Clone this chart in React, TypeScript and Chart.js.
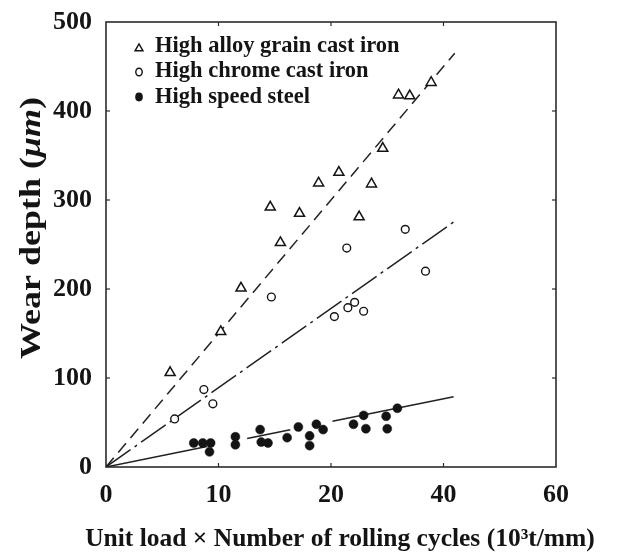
import React, { useEffect, useRef } from 'react';
import { Chart, registerables } from 'chart.js';

Chart.register(...registerables);

// Tick labels as printed on the reference axis (equally spaced positions)
const xTickLabels = ['0', '10', '20', '40', '60'];
const yTickValues = [0, 100, 200, 300, 400, 500];

// High alloy grain cast iron (triangles)
const alloyX = [5.7, 10.2, 12.0, 14.6, 15.5, 17.2, 18.9, 20.7, 22.5, 23.6, 24.6, 26.0, 27.0, 28.9];
const alloyY = [106, 152, 201, 292, 252, 285, 319, 331, 281, 318, 358, 418, 417, 432];

// High chrome cast iron (open circles)
const chromeX = [6.1, 8.7, 9.5, 14.7, 20.3, 21.4, 21.5, 22.1, 22.9, 26.6, 28.4];
const chromeY = [54, 87, 71, 191, 169, 246, 179, 185, 175, 267, 220];

// High speed steel (filled circles)
const steelX = [7.8, 8.6, 9.3, 9.2, 11.5, 11.5, 13.7, 13.8, 14.4, 16.1, 17.1, 18.1, 18.1, 18.7, 19.3, 22.0, 22.9, 23.1, 24.9, 25.0, 25.9];
const steelY = [27, 27, 27, 17, 34, 25, 42, 28, 27, 33, 45, 35, 24, 48, 42, 48, 58, 43, 57, 43, 66];

// Fitted lines (start, end)
const alloyLineX = [0, 31.0];
const alloyLineY = [0, 465];
const chromeLineX = [0, 31.1];
const chromeLineY = [0, 277];
const steelLineX = [0, 30.9];
const steelLineY = [0, 79];

const legendLabels = ['High alloy grain cast iron', 'High chrome cast iron', 'High speed steel'];
const xTitle = 'Unit load \u00d7 Number of rolling cycles (10\u00b3t/mm)';
const yTitleParts = ['Wear depth (', '\u03bcm', ')'];

const FONT = "'Liberation Serif', 'Times New Roman', serif";
const INK = '#141414';

const pts = (xs: number[], ys: number[]) => xs.map((x, i) => ({ x, y: ys[i] }));

export default function App() {
  const ref = useRef<HTMLCanvasElement>(null);

  useEffect(() => {
    const canvas = ref.current;
    if (!canvas) return;

    const decorPlugin = {
      id: 'decor',
      beforeDatasetsDraw(chart: any) {
        const { ctx, chartArea: a, scales } = chart;
        ctx.save();
        ctx.strokeStyle = '#2b2b2b';
        ctx.lineWidth = 1.6;
        ctx.strokeRect(a.left, a.top, a.right - a.left, a.bottom - a.top);
        ctx.lineWidth = 1.2;
        const seg = (x1: number, y1: number, x2: number, y2: number) => {
          ctx.beginPath();
          ctx.moveTo(x1, y1);
          ctx.lineTo(x2, y2);
          ctx.stroke();
        };
        [10, 20, 30].forEach((v) => {
          const px = scales.x.getPixelForValue(v);
          seg(px, a.bottom, px, a.bottom - 4);
          seg(px, a.top, px, a.top + 4);
        });
        [100, 200, 300, 400].forEach((v) => {
          const py = scales.y.getPixelForValue(v);
          seg(a.left, py, a.left + 4, py);
          seg(a.right, py, a.right - 4, py);
        });
        ctx.restore();
      },
      afterDraw(chart: any) {
        const { ctx } = chart;
        ctx.save();
        // Legend (inside plot area, top-left)
        ctx.fillStyle = INK;
        ctx.strokeStyle = INK;
        ctx.font = `bold 22.5px ${FONT}`;
        ctx.textBaseline = 'alphabetic';
        ctx.textAlign = 'left';
        const mx = 139;
        const rows = [51.5, 77, 103];
        ctx.lineWidth = 1.4;
        const r = 4.6;
        const cy0 = 48.5;
        ctx.beginPath();
        ctx.moveTo(mx, cy0 - r);
        ctx.lineTo(mx + r * 0.866, cy0 + r * 0.5);
        ctx.lineTo(mx - r * 0.866, cy0 + r * 0.5);
        ctx.closePath();
        ctx.fillStyle = '#fff';
        ctx.fill();
        ctx.stroke();
        ctx.beginPath();
        ctx.ellipse(mx, 72, 3.2, 3.8, 0, 0, Math.PI * 2);
        ctx.fill();
        ctx.stroke();
        ctx.fillStyle = INK;
        ctx.beginPath();
        ctx.ellipse(mx, 97, 3.8, 4.4, 0, 0, Math.PI * 2);
        ctx.fill();
        legendLabels.forEach((t, i) => ctx.fillText(t, 155, rows[i]));

        // X title
        ctx.font = `bold 25.5px ${FONT}`;
        ctx.textAlign = 'center';
        ctx.fillText(xTitle, 340, 546);

        // Y title (rotated, with italic unit)
        ctx.translate(40, 228);
        ctx.rotate(-Math.PI / 2);
        ctx.scale(1.2, 1);
        const fonts = [`bold 30px ${FONT}`, `italic bold 30px ${FONT}`, `bold 30px ${FONT}`];
        const widths = yTitleParts.map((p, i) => {
          ctx.font = fonts[i];
          return ctx.measureText(p).width;
        });
        let x = -widths.reduce((s, w) => s + w, 0) / 2;
        ctx.textAlign = 'left';
        yTitleParts.forEach((p, i) => {
          ctx.font = fonts[i];
          ctx.fillText(p, x, 0);
          x += widths[i];
        });
        ctx.restore();
      },
    };

    const lineBase = {
      showLine: true,
      pointRadius: 0,
      borderColor: '#222',
      borderWidth: 1.5,
      fill: false,
    };

    const chart = new Chart(canvas, {
      type: 'scatter',
      data: {
        datasets: [
          {
            label: legendLabels[0],
            data: pts(alloyX, alloyY),
            pointStyle: 'triangle',
            pointRadius: 5.8,
            pointBackgroundColor: '#fff',
            pointBorderColor: INK,
            pointBorderWidth: 1.5,
          },
          {
            label: legendLabels[1],
            data: pts(chromeX, chromeY),
            pointStyle: 'circle',
            pointRadius: 3.9,
            pointBackgroundColor: '#fff',
            pointBorderColor: INK,
            pointBorderWidth: 1.4,
          },
          {
            label: legendLabels[2],
            data: pts(steelX, steelY),
            pointStyle: 'circle',
            pointRadius: 4.5,
            pointBackgroundColor: INK,
            pointBorderColor: INK,
            pointBorderWidth: 0.5,
          },
          { ...lineBase, label: 'alloy fit', data: pts(alloyLineX, alloyLineY), borderDash: [12, 7] },
          { ...lineBase, label: 'chrome fit', data: pts(chromeLineX, chromeLineY), borderDash: [30, 5, 3, 5] },
          { ...lineBase, label: 'steel fit', data: pts(steelLineX, steelLineY), borderDash: [103, 41, 44, 43, 130] },
        ] as any,
      },
      options: {
        animation: false,
        responsive: false,
        maintainAspectRatio: false,
        layout: { padding: { left: 0, top: 22, right: 71, bottom: 0 } },
        plugins: {
          legend: { display: false },
          tooltip: { enabled: false },
          title: { display: false },
        },
        scales: {
          x: {
            type: 'linear',
            min: 0,
            max: 40,
            grid: { display: false },
            border: { display: false },
            ticks: {
              stepSize: 10,
              padding: 5,
              color: INK,
              font: { family: FONT, size: 26, weight: 'bold' },
              callback: (_v: any, i: number) => xTickLabels[i],
            },
            afterFit: (s: any) => {
              s.height = 89;
            },
          },
          y: {
            type: 'linear',
            min: yTickValues[0],
            max: yTickValues[yTickValues.length - 1],
            grid: { display: false },
            border: { display: false },
            ticks: {
              stepSize: 100,
              padding: 6,
              color: INK,
              font: { family: FONT, size: 26, weight: 'bold' },
            },
            afterFit: (s: any) => {
              s.width = 106;
            },
          },
        },
      } as any,
      plugins: [decorPlugin],
    });

    return () => chart.destroy();
  }, []);

  return (
    <div style={{ position: 'absolute', left: 0, top: 0, width: 627, height: 556, background: '#fff' }}>
      <canvas ref={ref} width={627} height={556} />
    </div>
  );
}
